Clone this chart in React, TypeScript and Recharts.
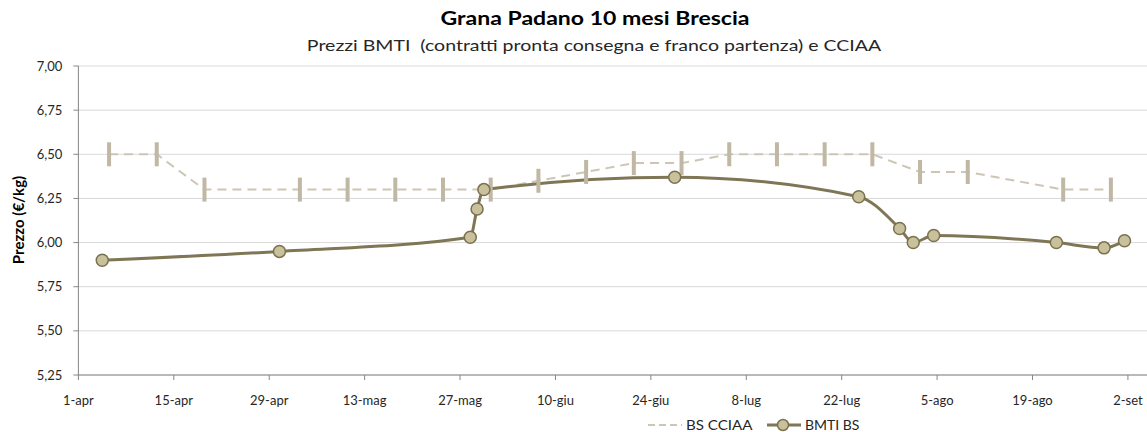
import { LineChart, Line, XAxis, YAxis, CartesianGrid } from "recharts";

// month start, as days after 1-apr
const MONTH_START: Record<string, number> = { apr: 0, mag: 30, giu: 61, lug: 91, ago: 122, set: 153 };

const TICK_LABELS = ["1-apr", "15-apr", "29-apr", "13-mag", "27-mag", "10-giu", "24-giu", "8-lug", "22-lug", "5-ago", "19-ago", "2-set"];
const Y_TICKS = [5.25, 5.5, 5.75, 6, 6.25, 6.5, 6.75, 7];

const CCIAA_DATES = ["5-apr", "12-apr", "19-apr", "3-mag", "10-mag", "17-mag", "24-mag", "31-mag", "7-giu", "14-giu", "21-giu", "28-giu", "5-lug", "12-lug", "19-lug", "26-lug", "2-ago", "9-ago", "23-ago", "30-ago"];
const CCIAA_VALUES = [6.5, 6.5, 6.3, 6.3, 6.3, 6.3, 6.3, 6.3, 6.35, 6.4, 6.45, 6.45, 6.5, 6.5, 6.5, 6.5, 6.4, 6.4, 6.3, 6.3];

const BMTI_DATES = ["4-apr", "30-apr", "28-mag", "29-mag", "30-mag", "27-giu", "24-lug", "30-lug", "1-ago", "4-ago", "22-ago", "29-ago", "1-set"];
const BMTI_VALUES = [5.9, 5.95, 6.03, 6.19, 6.3, 6.37, 6.26, 6.08, 6.0, 6.04, 6.0, 5.97, 6.01];

// dates sit in the middle of their day, like the excel date axis
const dayOf = (d: string) => {
  const [day, mon] = d.split("-");
  return MONTH_START[mon] + Number(day) - 1 + 0.5;
};

const cciaaData = CCIAA_DATES.map((d, i) => ({ x: dayOf(d), v: CCIAA_VALUES[i] }));
const bmtiData = BMTI_DATES.map((d, i) => ({ x: dayOf(d), v: BMTI_VALUES[i] }));
const xTicks = TICK_LABELS.map((_, i) => i * 14);

const FONT = "Lato, 'Open Sans', sans-serif";
const TEXT = "#262626";

function BarDot(props: any) {
  const { cx, cy, key } = props;
  if (cx == null || cy == null) return null;
  return <rect key={key} x={cx - 2} y={cy - 12} width={4} height={24} fill="#c0b8a4" />;
}

export default function App() {
  return (
    <div style={{ position: "absolute", left: 0, top: 0, width: 1147, height: 432, overflow: "hidden", background: "#fff", fontFamily: FONT }}>
      <div style={{ position: "absolute", left: 0, width: 1190, top: 7, textAlign: "center", fontSize: 18, fontWeight: 700, color: "#000", transform: "scaleX(1.28)", transformOrigin: "595px 0" }}>
        Grana Padano 10 mesi Brescia
      </div>
      <div style={{ position: "absolute", left: 0, width: 1188, top: 36, textAlign: "center", fontSize: 15, color: TEXT, whiteSpace: "pre", transform: "scaleX(1.3)", transformOrigin: "594px 0" }}>
        Prezzi BMTI  (contratti pronta consegna e franco partenza) e CCIAA
      </div>
      <div
        style={{
          position: "absolute", left: 18, top: 220, fontSize: 15, fontWeight: 700, color: "#000",
          transform: "translate(-50%, -50%) rotate(-90deg)", whiteSpace: "nowrap",
        }}
      >
        Prezzo (€/kg)
      </div>

      <LineChart width={1147} height={432} margin={{ top: 66, right: 0, bottom: 27, left: 18.4 }} style={{ position: "absolute", left: 0, top: 0 }}>
        <CartesianGrid horizontal vertical={false} stroke="#d9d9d9" />
        <XAxis
          type="number"
          dataKey="x"
          domain={[0, 156.8]}
          ticks={xTicks}
          allowDataOverflow
          tickFormatter={(v: number) => TICK_LABELS[Math.round(v / 14)]}
          height={30}
          tickSize={5}
          tickMargin={16}
          stroke="#868686"
          tick={{ fill: TEXT, fontSize: 13, fontFamily: FONT }}
          interval={0}
        />
        <YAxis
          type="number"
          domain={[5.25, 7]}
          ticks={Y_TICKS}
          width={60}
          tickSize={5}
          tickMargin={11}
          stroke="#868686"
          tickFormatter={(v: number) => v.toFixed(2).replace(".", ",")}
          tick={{ fill: TEXT, fontSize: 13, fontFamily: FONT }}
          interval={0}
        />
        <Line
          data={cciaaData}
          dataKey="v"
          name="BS CCIAA"
          type="linear"
          stroke="#cdc6b6"
          strokeWidth={2}
          strokeDasharray="9 6"
          dot={<BarDot />}
          activeDot={false}
          isAnimationActive={false}
        />
        <Line
          data={bmtiData}
          dataKey="v"
          name="BMTI BS"
          type="monotone"
          stroke="#7f7655"
          strokeWidth={3}
          dot={{ r: 6, fill: "#c9c19b", stroke: "#7a7151", strokeWidth: 1.5 }}
          activeDot={false}
          isAnimationActive={false}
        />
      </LineChart>

      {/* legend */}
      <svg width={40} height={14} style={{ position: "absolute", left: 645, top: 418 }}>
        <line x1={3} y1={7} x2={37} y2={7} stroke="#cdc6b6" strokeWidth={2} strokeDasharray="7 4" />
      </svg>
      <span style={{ position: "absolute", left: 686, top: 416, fontSize: 14, color: TEXT, whiteSpace: "nowrap", transform: "scaleX(1.08)", transformOrigin: "0 0" }}>BS CCIAA</span>
      <svg width={40} height={14} style={{ position: "absolute", left: 764, top: 418 }}>
        <line x1={3} y1={7} x2={37} y2={7} stroke="#7f7655" strokeWidth={3} />
        <circle cx={19} cy={7} r={5.5} fill="#c9c19b" stroke="#7a7151" strokeWidth={1.5} />
      </svg>
      <span style={{ position: "absolute", left: 805, top: 416, fontSize: 14, color: TEXT, whiteSpace: "nowrap" }}>BMTI BS</span>
    </div>
  );
}
